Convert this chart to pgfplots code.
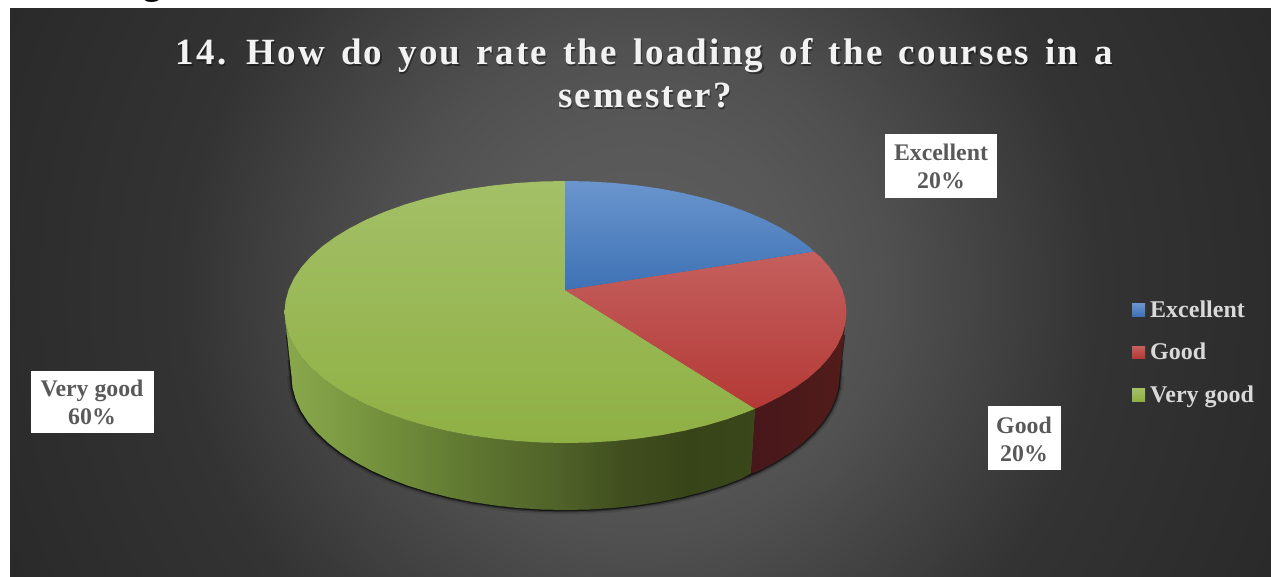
\documentclass[border=0pt]{standalone}
\usepackage{pgfplots}
\pgfplotsset{compat=1.18}
\usepackage{fontspec}
\setmainfont{Liberation Serif}
\newfontfamily\titlefont[LetterSpace=5.9,WordSpace=1.42]{Liberation Serif}
\definecolor{ltxt}{HTML}{595959}
\definecolor{legtxt}{HTML}{D9D9D9}
\definecolor{titletxt}{HTML}{F2F2F2}
\definecolor{walldark}{HTML}{47171A}
\definecolor{wallred}{HTML}{521C1A}
\definecolor{greenT}{HTML}{A3C067}
\definecolor{greenM}{HTML}{97B74D}
\definecolor{greenB}{HTML}{8FB044}
\definecolor{redT}{HTML}{C4605E}
\definecolor{redB}{HTML}{B43936}
\definecolor{blueT}{HTML}{6A95CD}
\definecolor{blueB}{HTML}{3E72B5}
\pgfdeclareradialshading{bgsh}{\pgfpointorigin}{rgb(0bp)=(0.37,0.37,0.37); rgb(5.5bp)=(0.345,0.345,0.345); rgb(8.7bp)=(0.314,0.314,0.314); rgb(16bp)=(0.2,0.2,0.2); rgb(25bp)=(0.16,0.16,0.16); rgb(50bp)=(0.16,0.16,0.16)}
\pgfdeclarehorizontalshading{greenwall}{100bp}{rgb(0bp)=(0.541,0.663,0.298); rgb(25bp)=(0.541,0.663,0.298); rgb(35.2bp)=(0.451,0.569,0.235); rgb(44.7bp)=(0.373,0.467,0.192); rgb(54.3bp)=(0.31,0.384,0.157); rgb(60.7bp)=(0.255,0.31,0.122); rgb(68.1bp)=(0.216,0.267,0.094); rgb(75bp)=(0.227,0.278,0.098); rgb(100bp)=(0.227,0.278,0.098)}
\begin{document}
\begin{tikzpicture}
\begin{axis}[
  width=1271pt, height=577pt, scale only axis,
  xmin=0, xmax=1271, ymin=0, ymax=577, y dir=reverse,
  hide axis, clip=false, no markers]
% background
\begin{scope}
\clip (10,9) rectangle (1271,577);
\fill[shading=bgsh] (640,290) circle [radius=720pt];
\end{scope}
% clipped fragment of the text above the chart
\begin{scope}
\clip (130,0) rectangle (180,9);
\node[anchor=base,font=\fontsize{36}{36}\selectfont\bfseries,text=black] at (152,-5) {g};
\end{scope}
% soft shadow under the pie
\addplot[draw=black,line width=9pt,opacity=0.10,forget plot] coordinates {(839.5,376)(838.5,387.7)(835.3,399.3)(830.2,410.7)(823,421.8)(813.8,432.6)(802.8,443)(790,452.9)(775.4,462.1)(759.2,470.8)(741.6,478.6)(722.7,485.8)(702.5,492)(681.3,497.4)(659.2,501.9)(636.4,505.4)(613.1,508)(589.4,509.5)(565.5,510)(541.6,509.5)(517.9,508)(494.6,505.4)(471.8,501.9)(449.7,497.4)(428.5,492)(408.3,485.8)(389.4,478.6)(371.8,470.8)(355.6,462.1)(341,452.9)(328.2,443)(317.2,432.6)(308,421.8)(300.8,410.7)(295.7,399.3)(292.5,387.7)(291.5,376)};
\addplot[draw=black,line width=5pt,opacity=0.28,forget plot] coordinates {(841,360)(839.5,376)(838.5,387.7)(835.3,399.3)(830.2,410.7)(823,421.8)(813.8,432.6)(802.8,443)(790,452.9)(775.4,462.1)(759.2,470.8)(741.6,478.6)(722.7,485.8)(702.5,492)(681.3,497.4)(659.2,501.9)(636.4,505.4)(613.1,508)(589.4,509.5)(565.5,510)(541.6,509.5)(517.9,508)(494.6,505.4)(471.8,501.9)(449.7,497.4)(428.5,492)(408.3,485.8)(389.4,478.6)(371.8,470.8)(355.6,462.1)(341,452.9)(328.2,443)(317.2,432.6)(308,421.8)(300.8,410.7)(295.7,399.3)(292.5,387.7)(291.5,376)(290,360)};
\addplot[draw=black,line width=2.5pt,opacity=0.55,forget plot] coordinates {(844,335)(841,360)(839.5,376)(838.5,387.7)(835.3,399.3)(830.2,410.7)(823,421.8)(813.8,432.6)(802.8,443)(790,452.9)(775.4,462.1)(759.2,470.8)(741.6,478.6)(722.7,485.8)(702.5,492)(681.3,497.4)(659.2,501.9)(636.4,505.4)(613.1,508)(589.4,509.5)(565.5,510)(541.6,509.5)(517.9,508)(494.6,505.4)(471.8,501.9)(449.7,497.4)(428.5,492)(408.3,485.8)(389.4,478.6)(371.8,470.8)(355.6,462.1)(341,452.9)(328.2,443)(317.2,432.6)(308,421.8)(300.8,410.7)(295.7,399.3)(292.5,387.7)(291.5,376)(290,360)(287,335)};
% wall of the Good slice (20%)
\addplot[draw=none,left color=walldark,right color=wallred,forget plot] coordinates {(846.5,312)(845.4,323.4)(842.2,334.7)(836.9,345.9)(829.6,356.8)(820.2,367.4)(808.9,377.5)(795.7,387.1)(780.7,396.2)(764.2,404.6)(755,408.7)(750.7,473.5)(759.2,470.8)(775.4,462.1)(790,452.9)(802.8,443)(813.8,432.6)(823,421.8)(830.2,410.7)(835.3,399.3)(838.5,387.7)(839.5,376)} --cycle;
% wall of the Very good slice (60%)
\addplot[draw=none,shading=greenwall,forget plot] coordinates {(755,408.7)(746.1,412.3)(726.7,419.3)(706,425.4)(684.3,430.7)(661.6,435.1)(638.2,438.5)(614.3,441)(590,442.5)(565.5,443)(541,442.5)(516.7,441)(492.8,438.5)(469.4,435.1)(446.7,430.7)(425,425.4)(404.3,419.3)(384.9,412.3)(366.8,404.6)(350.3,396.2)(335.3,387.1)(322.1,377.5)(310.8,367.4)(301.4,356.8)(294.1,345.9)(288.8,334.7)(285.6,323.4)(284.5,312)(291.5,376)(292.5,387.7)(295.7,399.3)(300.8,410.7)(308,421.8)(317.2,432.6)(328.2,443)(341,452.9)(355.6,462.1)(371.8,470.8)(389.4,478.6)(408.3,485.8)(428.5,492)(449.7,497.4)(471.8,501.9)(494.6,505.4)(517.9,508)(541.6,509.5)(565.5,510)(589.4,509.5)(613.1,508)(636.4,505.4)(659.2,501.9)(681.3,497.4)(702.5,492)(722.7,485.8)(741.6,478.6)(750.7,473.5)} --cycle;
% top face: Very good 60%
\addplot[draw=none,top color=greenT,middle color=greenM,bottom color=greenB,forget plot] coordinates {(565,290)(755,408.7)(746.1,412.3)(726.7,419.3)(706,425.4)(684.3,430.7)(661.6,435.1)(638.2,438.5)(614.3,441)(590,442.5)(565.5,443)(541,442.5)(516.7,441)(492.8,438.5)(469.4,435.1)(446.7,430.7)(425,425.4)(404.3,419.3)(384.9,412.3)(366.8,404.6)(350.3,396.2)(335.3,387.1)(322.1,377.5)(310.8,367.4)(301.4,356.8)(294.1,345.9)(288.8,334.7)(285.6,323.4)(284.5,312)(285.6,300.6)(288.8,289.3)(294.1,278.1)(301.4,267.2)(310.8,256.6)(322.1,246.5)(335.3,236.9)(350.3,227.8)(366.8,219.4)(384.9,211.7)(404.3,204.7)(425,198.6)(446.7,193.3)(469.4,188.9)(492.8,185.5)(516.7,183)(541,181.5)(565.5,181)} --cycle;
% top face: Good 20%
\addplot[draw=none,top color=redT,bottom color=redB,forget plot] coordinates {(565,290)(814,251.5)(820.2,256.6)(829.6,267.2)(836.9,278.1)(842.2,289.3)(845.4,300.6)(846.5,312)(845.4,323.4)(842.2,334.7)(836.9,345.9)(829.6,356.8)(820.2,367.4)(808.9,377.5)(795.7,387.1)(780.7,396.2)(764.2,404.6)(755,408.7)} --cycle;
% top face: Excellent 20%
\addplot[draw=none,top color=blueT,bottom color=blueB,forget plot] coordinates {(565,290)(565.5,181)(590,181.5)(614.3,183)(638.2,185.5)(661.6,188.9)(684.3,193.3)(706,198.6)(726.7,204.7)(746.1,211.7)(764.2,219.4)(780.7,227.8)(795.7,236.9)(808.9,246.5)(814,251.5)} --cycle;
% title
\node[anchor=base,font=\titlefont\fontsize{37}{37}\selectfont\bfseries,text=black,opacity=0.4] at (645.7,66.5) {14. How do you rate the loading of the courses in a};
\node[anchor=base,font=\titlefont\fontsize{37}{37}\selectfont\bfseries,text=black,opacity=0.4] at (646.2,109.5) {semester?};
\node[anchor=base,font=\titlefont\fontsize{37}{37}\selectfont\bfseries,text=titletxt] at (644.5,65) {14. How do you rate the loading of the courses in a};
\node[anchor=base,font=\titlefont\fontsize{37}{37}\selectfont\bfseries,text=titletxt] at (645,108) {semester?};
% data labels
\fill[white] (885,134) rectangle (997,198);
\fill[white] (988,406) rectangle (1061,470);
\fill[white] (31,371) rectangle (154,433);
\node[anchor=base,font=\fontsize{23.8}{24}\selectfont\bfseries,text=ltxt] at (941,161) {Excellent};
\node[anchor=base,font=\fontsize{23.8}{24}\selectfont\bfseries,text=ltxt] at (941,189) {20\%};
\node[anchor=base,font=\fontsize{23.8}{24}\selectfont\bfseries,text=ltxt] at (1024,433) {Good};
\node[anchor=base,font=\fontsize{23.8}{24}\selectfont\bfseries,text=ltxt] at (1024,461) {20\%};
\node[anchor=base,font=\fontsize{23.8}{24}\selectfont\bfseries,text=ltxt] at (92,396) {Very good};
\node[anchor=base,font=\fontsize{23.8}{24}\selectfont\bfseries,text=ltxt] at (92,424) {60\%};
% legend
\addplot[draw=none,top color=blueT,bottom color=blueB,forget plot] coordinates {(1132,303)(1145,303)(1145,316)(1132,316)} --cycle;
\addplot[draw=none,top color=redT,bottom color=redB,forget plot] coordinates {(1132,346)(1145,346)(1145,358)(1132,358)} --cycle;
\addplot[draw=none,top color=greenT,bottom color=greenB,forget plot] coordinates {(1132,388)(1145,388)(1145,401)(1132,401)} --cycle;
\node[anchor=base west,inner sep=0pt,font=\fontsize{24}{24}\selectfont\bfseries,text=legtxt] at (1150,317) {Excellent};
\node[anchor=base west,inner sep=0pt,font=\fontsize{24}{24}\selectfont\bfseries,text=legtxt] at (1150,359.5) {Good};
\node[anchor=base west,inner sep=0pt,font=\fontsize{24}{24}\selectfont\bfseries,text=legtxt] at (1150,402) {Very good};
\end{axis}
\pgfresetboundingbox
\path[use as bounding box] (0,0) rectangle (1271pt,577pt);
\end{tikzpicture}
\end{document}
